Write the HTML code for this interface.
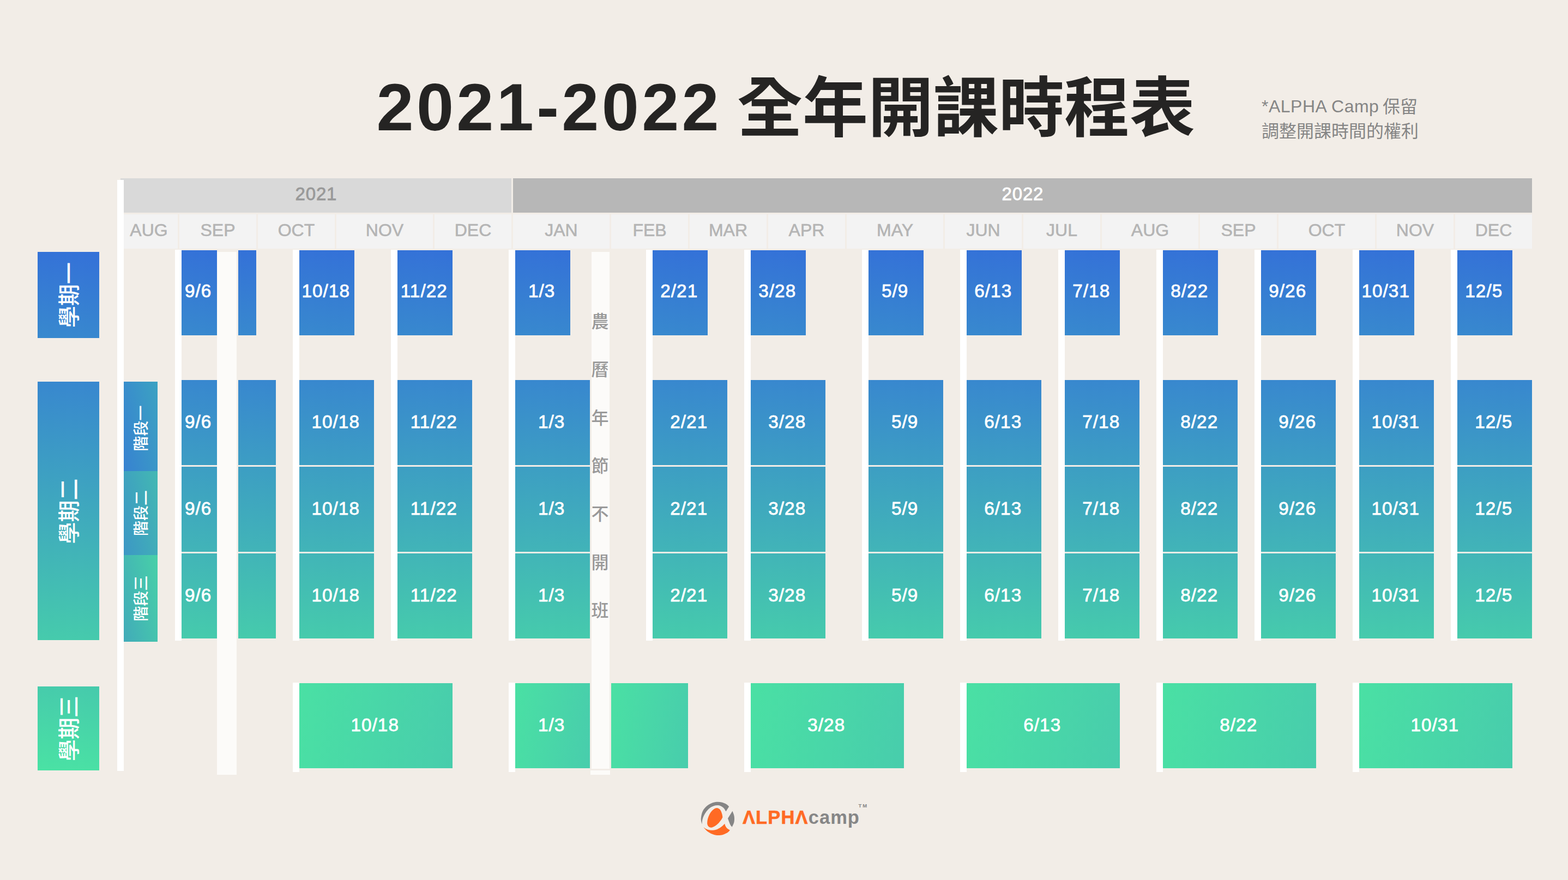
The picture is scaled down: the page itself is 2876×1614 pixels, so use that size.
<!DOCTYPE html>
<html lang="zh-Hant">
<head>
<meta charset="utf-8">
<title>2021-2022 全年開課時程表 - ALPHA Camp</title>
<style>
*{box-sizing:border-box}
html,body{margin:0;padding:0;overflow:hidden}
body{background:#f2ede7}
.page{position:relative;width:2876px;height:1614px;overflow:hidden;background:#f2ede7;
  font-family:"Liberation Sans",sans-serif;color:#fff}
.page>*,.sem>*,.months>*,.years>*{position:absolute}
svg{display:block;overflow:visible}
svg text{font-family:"Liberation Sans","Noto Sans CJK TC",sans-serif;letter-spacing:0}

/* ---------- title ---------- */
.title{margin:0;left:0;top:0;width:2876px;height:300px;font-weight:700;color:#252423}
.title .num{position:absolute;left:690.5px;top:130px;font-size:122.5px;line-height:134px;letter-spacing:5.3px;white-space:nowrap}
.title svg{position:absolute;left:1352px;top:121px;fill:#252423}
.note{margin:0;left:2314px;top:170px;width:300px;height:96px;color:#858585;font-size:32px;line-height:44.7px;white-space:nowrap}
.note span{position:absolute;left:0;top:3.2px;letter-spacing:.5px}
.note svg{position:absolute;fill:#858585}

/* ---------- header ---------- */
.years{left:0;top:327px;width:2876px;height:63px}
.y{top:0;height:63px;font-size:33px;line-height:58px;text-align:center;letter-spacing:.8px;padding-left:.8px;-webkit-text-stroke:.8px}
.y21{left:221px;width:717px;background:#d9d9d9;color:#999}
.y22{left:941px;width:1869px;background:#b7b7b7;color:#fff}
.months{left:0;top:393px;width:2876px;height:63px}
.m{top:0;height:63px;background:#f3f3f3;color:#b4b4b4;font-size:32px;line-height:59px;text-align:center;-webkit-text-stroke:.6px #b4b4b4}
.rail{left:215px;top:330px;width:12px;height:1084px;background:#fff}
.tick{width:12px;background:#fff}
.tick.a{top:458px;height:717px}
.tick.b{top:1252px;height:164px}

/* ---------- rows ---------- */
.sem{left:0;top:0;width:0;height:0}
.lbl{left:69px;width:113px}
.blk,.col div{font-size:33.3px;line-height:1;display:flex;align-items:center;justify-content:center;
  padding:0 3.5px 3px 0;letter-spacing:1px;-webkit-text-stroke:.8px #fff;white-space:nowrap}
.sem1 .lbl{top:462px;height:158px;background:linear-gradient(186deg,#3471d8,#3889ce)}
.sem1 .blk{top:459px;height:156px;padding-bottom:6px;background:linear-gradient(186deg,#3471d8,#3889ce)}
.sem2 .lbl{top:700px;height:474px;background:linear-gradient(183deg,#3887cf,#46cbac)}
.col{top:697px;height:474px;
  background:linear-gradient(#f2ede7,#f2ede7) 0 156px/100% 3px no-repeat,
             linear-gradient(#f2ede7,#f2ede7) 0 315px/100% 3px no-repeat,
             linear-gradient(183deg,#3887cf,#46cbac)}
.col div{position:absolute;left:0;width:100%;height:156px}
.col div:nth-child(1){top:0}.col div:nth-child(2){top:159px}.col div:nth-child(3){top:318px}
.stage{left:227px;width:62px}
.st1{top:700px;height:164px;background:linear-gradient(78deg,#3782d1,#3ca2c2)}
.st2{top:864px;height:154px;background:linear-gradient(78deg,#3c97c5,#43b8b3)}
.st3{top:1018px;height:159px;background:linear-gradient(78deg,#41abb9,#48d0a8)}
.sem3 .lbl{top:1259px;height:154px;background:linear-gradient(186deg,#46caac,#4ae2a4)}
.sem3 .blk{top:1253px;height:156px;background:linear-gradient(97deg,#4ae0a4,#48cdac)}
.lbl svg,.stage svg{fill:#fff}

/* ---------- holiday bands ---------- */
.band{background:#fcfbf9}
.b1{left:398px;top:462px;width:36px;height:959px}
.b2{left:1085px;top:462px;width:33px;height:948px}
.b2f{left:1083px;top:1413px;width:36px;height:8px}
.b2 svg{fill:#999}

/* ---------- logo ---------- */
.logo{left:1280px;top:1465px;width:330px;height:76px;font-weight:700;font-size:34.5px;line-height:1;white-space:nowrap}
.logo>*{position:absolute}
.logo .alpha{left:82px;top:17.3px;color:#ff6a24;letter-spacing:1.1px;-webkit-text-stroke:.6px #ff6a24}
.logo .camp{left:202.8px;top:17.3px;color:#868686;letter-spacing:1px}
.logo .tm{left:294.5px;top:8.4px;font-size:9.5px;color:#868686;letter-spacing:2px}
</style>
</head>
<body>
<main class="page">
<h1 class="title"><span class="num">2021-2022</span> <svg width="840" height="134" viewBox="0 0 840 134" role="img" aria-label="全年開課時程表"><title>全年開課時程表</title><text x="0" y="120.4" font-size="120" font-weight="700">全年開課時程表</text></svg></h1>
<p class="note"><span>*ALPHA Camp</span> <svg style="left:222px;top:36.8px" width="64" height="44" viewBox="0 0 64 44" role="img" aria-label="保留"><title>保留</title><text x="0" y="0" font-size="32" font-weight="400">保留</text></svg><svg style="left:0;top:81.5px" width="288" height="44" viewBox="0 0 288 44" role="img" aria-label="調整開課時間的權利"><title>調整開課時間的權利</title><text x="0" y="0" font-size="32" font-weight="400">調整開課時間的權利</text></svg></p>
<div class="years"><div class="y y21">2021</div><div class="y y22">2022</div></div>
<div class="months"><div class="m" style="left:227px;width:99px;padding-right:7px">AUG</div><div class="m" style="left:329px;width:141px">SEP</div><div class="m" style="left:473px;width:141px">OCT</div><div class="m" style="left:617px;width:177px">NOV</div><div class="m" style="left:797px;width:141px">DEC</div><div class="m" style="left:941px;width:177px">JAN</div><div class="m" style="left:1121px;width:141px">FEB</div><div class="m" style="left:1265px;width:141px">MAR</div><div class="m" style="left:1409px;width:141px">APR</div><div class="m" style="left:1553px;width:177px">MAY</div><div class="m" style="left:1733px;width:141px">JUN</div><div class="m" style="left:1877px;width:141px">JUL</div><div class="m" style="left:2021px;width:177px">AUG</div><div class="m" style="left:2201px;width:141px">SEP</div><div class="m" style="left:2345px;width:177px">OCT</div><div class="m" style="left:2525px;width:141px">NOV</div><div class="m" style="left:2669px;width:141px">DEC</div></div>
<div class="rail"></div>
<div class="tick a" style="left:321px"></div>
<div class="tick a" style="left:537px"></div>
<div class="tick a" style="left:717px"></div>
<div class="tick a" style="left:933px"></div>
<div class="tick a" style="left:1185px"></div>
<div class="tick a" style="left:1365px"></div>
<div class="tick a" style="left:1581px"></div>
<div class="tick a" style="left:1761px"></div>
<div class="tick a" style="left:1941px"></div>
<div class="tick a" style="left:2121px"></div>
<div class="tick a" style="left:2301px"></div>
<div class="tick a" style="left:2481px"></div>
<div class="tick a" style="left:2661px"></div>
<div class="tick b" style="left:537px"></div>
<div class="tick b" style="left:933px"></div>
<div class="tick b" style="left:1365px"></div>
<div class="tick b" style="left:1761px"></div>
<div class="tick b" style="left:2121px"></div>
<div class="tick b" style="left:2481px"></div>
<section class="sem sem1"><div class="lbl"><svg width="113" height="158" viewBox="0 0 113 158" role="img" aria-label="學期一"><title>學期一</title><text transform="translate(56.5 79) rotate(-90)" x="0" y="15.2" font-size="40" font-weight="500" text-anchor="middle">學期一</text></svg></div><div class="blk" style="left:333px;width:65px">9/6</div><div class="blk" style="left:437px;width:33px"></div><div class="blk" style="left:549px;width:101px">10/18</div><div class="blk" style="left:729px;width:101px">11/22</div><div class="blk" style="left:945px;width:101px">1/3</div><div class="blk" style="left:1197px;width:101px">2/21</div><div class="blk" style="left:1377px;width:101px">3/28</div><div class="blk" style="left:1593px;width:101px">5/9</div><div class="blk" style="left:1773px;width:101px">6/13</div><div class="blk" style="left:1953px;width:101px">7/18</div><div class="blk" style="left:2133px;width:101px">8/22</div><div class="blk" style="left:2313px;width:101px">9/26</div><div class="blk" style="left:2493px;width:101px">10/31</div><div class="blk" style="left:2673px;width:101px">12/5</div></section>
<section class="sem sem2"><div class="lbl"><svg width="113" height="474" viewBox="0 0 113 474" role="img" aria-label="學期二"><title>學期二</title><text transform="translate(56.5 237.5) rotate(-90)" x="0" y="15.2" font-size="40" font-weight="500" text-anchor="middle">學期二</text></svg></div><div class="stage st1"><svg width="62" height="164" viewBox="0 0 62 164" role="img" aria-label="階段一"><title>階段一</title><text transform="translate(31 85.4) rotate(-90)" x="0" y="10.64" font-size="28" font-weight="500" text-anchor="middle">階段一</text></svg></div><div class="stage st2"><svg width="62" height="154" viewBox="0 0 62 154" role="img" aria-label="階段二"><title>階段二</title><text transform="translate(31 77) rotate(-90)" x="0" y="10.64" font-size="28" font-weight="500" text-anchor="middle">階段二</text></svg></div><div class="stage st3"><svg width="62" height="159" viewBox="0 0 62 159" role="img" aria-label="階段三"><title>階段三</title><text transform="translate(31 79.5) rotate(-90)" x="0" y="10.64" font-size="28" font-weight="500" text-anchor="middle">階段三</text></svg></div><div class="col" style="left:333px;width:65px"><div>9/6</div><div>9/6</div><div>9/6</div></div><div class="col" style="left:437px;width:69px"></div><div class="col" style="left:549px;width:137px"><div>10/18</div><div>10/18</div><div>10/18</div></div><div class="col" style="left:729px;width:137px"><div>11/22</div><div>11/22</div><div>11/22</div></div><div class="col" style="left:945px;width:137px"><div>1/3</div><div>1/3</div><div>1/3</div></div><div class="col" style="left:1197px;width:137px"><div>2/21</div><div>2/21</div><div>2/21</div></div><div class="col" style="left:1377px;width:137px"><div>3/28</div><div>3/28</div><div>3/28</div></div><div class="col" style="left:1593px;width:137px"><div>5/9</div><div>5/9</div><div>5/9</div></div><div class="col" style="left:1773px;width:137px"><div>6/13</div><div>6/13</div><div>6/13</div></div><div class="col" style="left:1953px;width:137px"><div>7/18</div><div>7/18</div><div>7/18</div></div><div class="col" style="left:2133px;width:137px"><div>8/22</div><div>8/22</div><div>8/22</div></div><div class="col" style="left:2313px;width:137px"><div>9/26</div><div>9/26</div><div>9/26</div></div><div class="col" style="left:2493px;width:137px"><div>10/31</div><div>10/31</div><div>10/31</div></div><div class="col" style="left:2673px;width:137px"><div>12/5</div><div>12/5</div><div>12/5</div></div></section>
<section class="sem sem3"><div class="lbl"><svg width="113" height="154" viewBox="0 0 113 154" role="img" aria-label="學期三"><title>學期三</title><text transform="translate(56.5 77) rotate(-90)" x="0" y="15.2" font-size="40" font-weight="500" text-anchor="middle">學期三</text></svg></div><div class="blk" style="left:549px;width:281px">10/18</div><div class="blk" style="left:945px;width:137px">1/3</div><div class="blk" style="left:1121px;width:141px"></div><div class="blk" style="left:1377px;width:281px">3/28</div><div class="blk" style="left:1773px;width:281px">6/13</div><div class="blk" style="left:2133px;width:281px">8/22</div><div class="blk" style="left:2493px;width:281px">10/31</div></section>
<div class="band b1"></div>
<div class="band b2"><svg width="33" height="948" viewBox="0 0 33 948" role="img" aria-label="農曆年節不開班"><title>農曆年節不開班</title><text x="-0.5" y="139.1" font-size="32" font-weight="500">農</text><text x="-0.5" y="227.4" font-size="32" font-weight="500">曆</text><text x="-0.5" y="315.7" font-size="32" font-weight="500">年</text><text x="-0.5" y="404" font-size="32" font-weight="500">節</text><text x="-0.5" y="492.3" font-size="32" font-weight="500">不</text><text x="-0.5" y="580.6" font-size="32" font-weight="500">開</text><text x="-0.5" y="668.9" font-size="32" font-weight="500">班</text></svg></div>
<div class="band b2f"></div>
<footer class="logo"><svg width="76" height="72" viewBox="0 0 76 72" role="img" aria-label="ALPHA Camp logo"><title>ALPHA Camp logo</title><path fill="#858585" d="M7.5 46.6C7.2 44.9 5.5 40.4 5.7 36.4C6 32.3 7 26.4 9 22.4C10.9 18.4 14.3 15 17.4 12.5C20.6 9.9 24.7 8.1 27.9 7C31 5.9 33.5 5.8 36.4 5.7C39.2 5.7 42.2 6 44.8 6.7C47.5 7.4 50.2 8.7 52.3 10C54.3 11.2 56.4 13.5 57.2 14.2L51.5 23.2C50.9 22.2 49.3 19 47.8 17.4C46.3 15.8 44.3 14.4 42.3 13.4C40.3 12.5 38.1 12 35.9 12C33.6 11.9 31.2 12.4 28.9 13.2C26.6 14 24.1 15.3 21.9 16.9C19.8 18.6 17.7 20.8 15.9 22.9C14.2 25.1 12.7 27.4 11.5 29.9C10.2 32.4 9.1 35.1 8.5 37.8C7.8 40.6 7.6 45.1 7.5 46.6Z"/><path fill="#858585" d="M63.5 22.4C64 23.7 65.7 27.6 66.2 29.9C66.8 32.2 67 34 67 36.4C67 38.7 66.9 41.3 66.2 43.8C65.5 46.4 63.3 50.5 62.7 51.8C62.2 51 60.5 49.9 59.3 47.3C58 44.7 55.7 38 55 36.1L63.5 22.4Z"/><path fill="#ff6a24" d="M45.4 33.9C44.9 34.8 43.7 37.4 42.3 39.3C41 41.3 39.1 43.6 37.4 45.3C35.6 47.1 33.6 48.6 31.9 49.8C30.1 51 28.3 51.8 26.9 52.3C25.5 52.8 24.6 52.9 23.4 52.7C22.2 52.5 20.9 52.1 19.9 51.3C19 50.5 18.1 49.1 17.7 47.8C17.2 46.5 17.1 45.3 17.2 43.3C17.3 41.3 17.7 38.3 18.4 35.9C19.1 33.4 20.2 30.7 21.4 28.4C22.7 26.1 24.3 23.7 25.9 21.9C27.5 20.2 29.3 18.8 30.9 17.9C32.5 17.1 33.9 16.8 35.4 16.9C36.9 17.1 38.6 17.8 39.8 18.9C41.1 20 42 21.7 42.8 23.4C43.6 25.1 44.1 27.1 44.6 28.9C45 30.6 45.3 33 45.4 33.9Z"/><path fill="#ff6a24" d="M10.2 52C11 52.6 13.2 54.4 14.9 55.3C16.7 56.2 18.8 56.9 20.9 57.3C23.1 57.7 25.6 57.9 27.9 57.8C30.2 57.6 32.6 57.1 34.9 56.3C37.1 55.4 39.4 54 41.3 52.8C43.2 51.5 45 50 46.3 48.8C47.6 47.6 48.8 46.3 49.3 45.8C49.5 46.4 49.8 48.1 50.3 49.3C50.8 50.5 51.5 51.8 52.3 52.8C53.1 53.8 54.2 54.7 55.3 55.5C56.4 56.3 58.4 57.2 59 57.5C58.3 58.2 56.6 60.5 54.8 61.8C52.9 63 50.3 64.4 47.8 65.2C45.3 66.1 42.5 66.8 39.8 67C37.2 67.2 34.5 67 31.9 66.5C29.2 65.9 26.3 64.9 23.9 63.7C21.5 62.6 19.3 61.2 17.4 59.8C15.6 58.3 14.2 56.6 12.9 55.3C11.7 54 10.7 52.6 10.2 52Z"/></svg><span class="alpha">&Lambda;LPH&Lambda;</span><span class="camp">camp</span><span class="tm">TM</span></footer>
</main>
</body>
</html>
